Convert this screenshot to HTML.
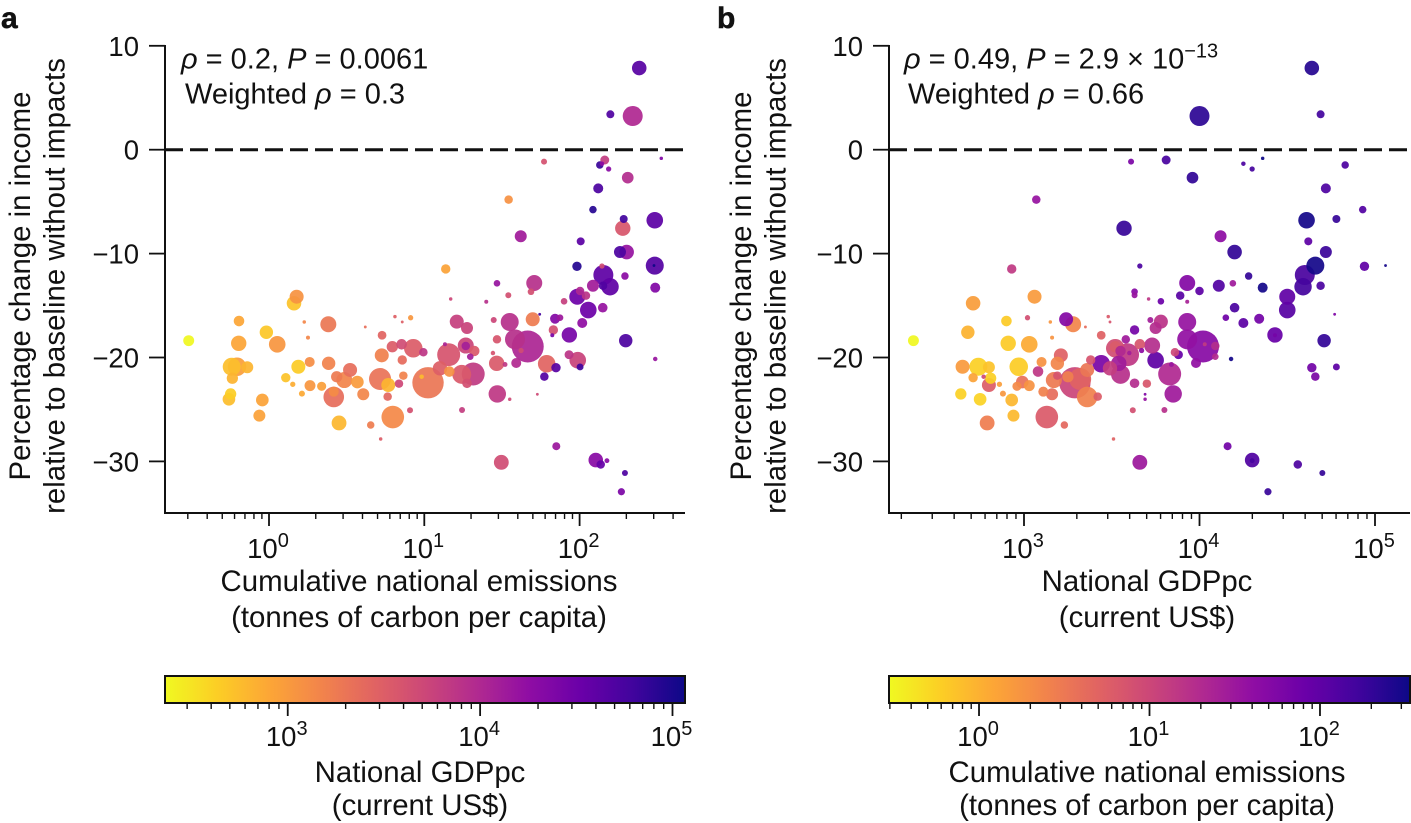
<!DOCTYPE html>
<html lang="en">
<head>
<meta charset="utf-8">
<title>Income change vs emissions and GDP</title>
<style>
html,body{margin:0;padding:0;background:#fff;}
svg{display:block;font-family:"Liberation Sans",Arial,sans-serif;fill:#111;}
.tick{font-size:27.5px;}
.lab{font-size:29.4px;}
.note{font-size:29px;}
.sup{font-size:20px;}
.panel{font-size:30px;font-weight:bold;stroke:#111;stroke-width:0.5px;}
</style>
</head>
<body>
<svg id="chart" xmlns="http://www.w3.org/2000/svg" width="1411" height="823" viewBox="0 0 1411 823">
  <defs>
    <linearGradient id="plasma-reversed" x1="0" y1="0" x2="1" y2="0"></linearGradient>
  </defs>
  <rect x="0" y="0" width="1411" height="823" fill="#fff"/>

  <text class="panel" x="1" y="28">a</text>
  <text class="panel" x="717" y="28">b</text>

  <g id="panel-a"></g>
  <g id="panel-b"></g>

  <text class="lab" text-anchor="middle" transform="translate(30 286) rotate(-90)">Percentage change in income</text>
  <text class="lab" text-anchor="middle" transform="translate(64.5 286) rotate(-90)">relative to baseline without impacts</text>
  <text class="lab" text-anchor="middle" transform="translate(751 286) rotate(-90)">Percentage change in income</text>
  <text class="lab" text-anchor="middle" transform="translate(785.5 286) rotate(-90)">relative to baseline without impacts</text>

  <text class="lab" text-anchor="middle" x="419" y="591">Cumulative national emissions</text>
  <text class="lab" text-anchor="middle" x="419" y="627">(tonnes of carbon per capita)</text>
  <text class="lab" text-anchor="middle" x="1147" y="591">National GDPpc</text>
  <text class="lab" text-anchor="middle" x="1147" y="627">(current US$)</text>

  <text class="lab" text-anchor="middle" x="420" y="782">National GDPpc</text>
  <text class="lab" text-anchor="middle" x="420" y="815">(current US$)</text>
  <text class="lab" text-anchor="middle" x="1147" y="782">Cumulative national emissions</text>
  <text class="lab" text-anchor="middle" x="1147" y="815">(tonnes of carbon per capita)</text>

  <text class="note" x="181" y="68.5"><tspan font-style="italic">ρ</tspan> = 0.2, <tspan font-style="italic">P</tspan> = 0.0061</text>
  <text class="note" x="185" y="103.5">Weighted <tspan font-style="italic">ρ</tspan> = 0.3</text>
  <text class="note" x="904" y="68.5"><tspan font-style="italic">ρ</tspan> = 0.49, <tspan font-style="italic">P</tspan> = 2.9 × 10<tspan class="sup" dy="-11">−13</tspan></text>
  <text class="note" x="908" y="103.5">Weighted <tspan font-style="italic">ρ</tspan> = 0.66</text>
</svg>

<script>
// Per-country values. Exponents are log10 of the plotted quantity.
const log10Emissions = [-0.517,0.178,0.161,-0.193,-0.017,-0.195,0.053,0.382,0.227,0.251,0.728,0.62,0.811,0.858,0.912,0.794,0.854,0.929,0.994,0.726,0.858,0.262,0.384,0.189,-0.206,-0.24,-0.14,-0.236,0.522,0.436,0.108,0.485,0.569,0.715,0.865,0.153,0.264,0.339,0.768,0.837,1.024,0.983,0.417,0.607,0.212,0.764,-0.247,-0.258,-0.043,-0.062,0.908,0.797,0.451,0.655,0.719,1.468,1.708,1.687,1.541,1.17,1.399,1.9,1.985,2.041,2.086,2.196,2.056,2.149,2.487,1.209,1.275,1.447,1.55,1.698,1.743,1.842,1.874,2.017,1.831,1.824,1.934,2.297,1.468,1.666,1.623,1.442,1.267,1.322,1.296,1.133,1.157,1.932,1.988,2.003,1.466,1.52,1.592,1.788,1.848,1.773,2.487,1.315,1.241,1.275,1.161,1.101,1.47,1.55,1.728,1.243,1.496,1.85,2.104,2.136,2.176,2.292,2.269,2.384,2.198,2.342,1.771,2.162,2.13,2.187,2.526,2.31,2.12,1.543,2.086,2.284,2.484,2.278,1.621,2.007,2.303,2.26,1.983,2.484,1.138,2.144,2.153,2.292,2.151,2.003,1.584,1.267,2.479,2.144,0.417];
const log10Gdp = [2.37,3.06,2.71,2.9,2.68,2.91,3.03,3.28,3.15,3.16,3.44,3.35,3.48,3.49,3.02,3.52,3.66,3.52,3.86,3.21,3.38,3.1,3.19,2.65,2.97,2.74,2.8,2.81,3.36,3.25,2.71,3.17,2.99,3.32,3.19,2.86,3.03,2.96,2.8,3.7,3.29,2.77,3.36,3.16,2.88,3.42,2.64,2.75,2.93,2.94,3.62,3.13,2.79,3.23,3.51,4.19,3.93,3.63,3.63,3.71,3.93,3.78,4.5,3.89,4.11,4.59,4.5,4.2,4.36,3.78,3.75,3.72,3.93,3.24,4.77,4.34,4.15,4.25,3.63,4.43,4.43,4.71,3.58,4.02,3.67,3.6,3.73,3.55,4.09,4.03,3.59,3.88,3.75,4.78,3.54,3.84,3.98,3.44,4.64,4.66,4.18,3.83,3.55,3.63,3.08,3.49,3.85,3.69,3.69,3.8,3.66,4.16,4.3,4.56,4.3,4.7,4.39,4.64,4.69,4,3.61,3.81,4.83,4.3,4.36,3.96,4.72,3.07,4.93,4.78,4.61,3.57,4.12,4.62,4.2,4.72,4.94,4.66,2.93,3.66,4.6,4.28,4.69,4,3.93,4.09,5.06,4.25,3.11];
const incomeChange = [-18.38,-14.15,-14.78,-16.49,-17.57,-18.63,-18.73,-16.8,-16.58,-18.09,-17.86,-17.06,-16.07,-16.58,-16.17,-18.96,-18.73,-19.11,-19.5,-19.79,-20.24,-20.43,-20.56,-20.89,-20.89,-20.89,-20.94,-22,-21.2,-21.85,-21.94,-22.17,-22.36,-22.07,-21.75,-22.58,-22.71,-22.77,-22.65,-22.52,-22.43,-21.85,-23.8,-23.54,-23.48,-23.77,-23.51,-24.02,-24.09,-25.6,-25.08,-25.73,-26.3,-26.5,-27.84,-12.86,-12.83,-13.67,-14.01,-14.37,-14.63,-14.59,-14.15,-14.05,-13.09,-13.19,-15.43,-15.21,-13.28,-16.55,-17.16,-16.39,-16.58,-16.32,-15.84,-16.27,-16.17,-16.68,-17.35,-17.86,-17.83,-18.38,-18.25,-18.94,-19.33,-19.57,-18.85,-19.37,-19.92,-18.73,-19.73,-19.73,-20.26,-20.91,-20.56,-20.67,-20.53,-20.6,-20.98,-21.84,-20.14,-21.59,-21.62,-22.48,-21.35,-21.04,-23.51,-24.02,-23.54,-25.05,-30.09,-28.54,-29.87,-30.3,-29.93,-31.12,-32.92,7.86,3.41,3.24,-1.15,-0.99,-1.47,-1.86,-0.83,-2.69,-3.72,-4.81,-5.77,-6.67,-6.79,-7.56,-8.33,-8.82,-9.85,-9.85,-11.22,-11.16,-11.48,-11.19,-12.06,-12.16,-13.09,-13.6,-18.25,-18.89,-11.15,-1.35,-23.29];
const populationArea = [30,49,53,28,45,59,69,64,3,4,19,2,3,2,7,32,28,86,18,49,22,25,45,49,86,81,36,32,49,32,22,64,40,121,18,7,30,21,49,18,246,5,106,36,9,18,32,40,40,36,9,128,55,14,3,11,64,11,9,3,4,11,64,18,36,76,69,23,25,49,36,9,81,49,2,25,11,25,22,4,59,45,18,256,7,5,64,27,11,4,132,20,69,12,59,6,25,77,22,18,5,132,90,23,28,52,76,3,2,9,55,16,53,18,6,9,13,53,16,100,9,20,14,7,3,34,25,18,14,16,69,59,36,16,53,36,22,81,22,7,100,14,18,18,100,18,2,5,25];

// Axis tick exponents and value axis ticks.
const emissionTickExponents = [0,1,2];
const gdpTickExponents = [3,4,5];
const yTickValues = [10,0,-10,-20,-30];
const yTickLabels = ['10','0','−10','−20','−30'];

// Matplotlib "plasma" colormap stops, low to high.
const plasmaStops = ['#0d0887','#41049d','#6a00a8','#8f0da4','#b12a90','#cc4778','#e16462','#f2844b','#fca636','#fcce25','#f0f921'];

// Colour-scale domains (log10).
const gdpColorDomain = [2.362,5.065];
const emissionColorDomain = [-0.528,2.528];

const NS = 'http://www.w3.org/2000/svg';
function make(tag, attrs, parent){
  const el = document.createElementNS(NS, tag);
  for (const k in attrs) el.setAttribute(k, attrs[k]);
  parent.appendChild(el);
  return el;
}
function hexToRgb(h){ return [1,3,5].map(i => parseInt(h.substr(i,2),16)); }
function plasmaReversed(t){
  const v = 1 - Math.max(0, Math.min(1, t));
  const p = v * (plasmaStops.length - 1);
  const i = Math.min(plasmaStops.length - 2, Math.floor(p));
  const f = p - i;
  const a = hexToRgb(plasmaStops[i]), b = hexToRgb(plasmaStops[i + 1]);
  return 'rgb(' + a.map((c, j) => Math.round(c + (b[j] - c) * f)).join(',') + ')';
}
const gradient = document.getElementById('plasma-reversed');
for (let i = 0; i <= 40; i++) {
  make('stop', {offset: (i / 40), 'stop-color': plasmaReversed(i / 40)}, gradient);
}

const yScale = v => 149.7 - 10.39 * v;
const AXIS_TOP = 46, AXIS_BOTTOM = 513;

function logTicks(root, prefix, x, axisY, majorLen, minorLen, low, high, exps, labelOffset){
  const group = make('g', {}, root);
  
  
  const first = Math.floor(low), last = Math.ceil(high);
  for (let d = first; d <= last; d++) {
    for (let m = 1; m <= 9; m++) {
      const lv = d + Math.log10(m);
      if (lv < low || lv > high) continue;
      const px = x(lv);
      const len = m === 1 ? majorLen : minorLen;
      const t = make('line', {x1: px, x2: px, y1: axisY, y2: axisY + len, stroke: '#111', 'stroke-width': m === 1 ? 1.8 : 1.4}, group);
      
      
    }
  }
  exps.forEach(e => {
    const txt = make('text', {x: x(e) - 1, y: axisY + labelOffset, 'text-anchor': 'middle', 'class': 'tick'}, root);
    
    
    txt.appendChild(document.createTextNode('10'));
    const sup = make('tspan', {'class': 'sup', dy: -11}, txt);
    sup.textContent = String(e);
  });
}

function drawPanel(cfg){
  const root = document.getElementById(cfg.id);
  const x = v => cfg.xZero + cfg.xPerDecade * (v - cfg.xZeroLog);

  const dots = make('g', {}, root);
  
  
  const order = incomeChange.map((_, i) => i).sort((p, q) => populationArea[q] - populationArea[p]);
  order.forEach(i => {
    const t = (cfg.colorValues[i] - cfg.colorDomain[0]) / (cfg.colorDomain[1] - cfg.colorDomain[0]);
    const c = make('circle', {cx: x(cfg.xValues[i]), cy: yScale(incomeChange[i]), r: Math.sqrt(populationArea[i]), fill: plasmaReversed(t), 'fill-opacity': 0.93}, dots);
    
    
  });

  const zero = make('line', {x1: cfg.left, x2: cfg.right, y1: yScale(0), y2: yScale(0), stroke: '#111', 'stroke-width': 3, 'stroke-dasharray': '18 7'}, root);
  
  

  const yAxis = make('line', {x1: cfg.left, x2: cfg.left, y1: AXIS_TOP - 1, y2: AXIS_BOTTOM + 1, stroke: '#111', 'stroke-width': 2}, root);
  
  
  const xAxis = make('line', {x1: cfg.left - 1, x2: cfg.right, y1: AXIS_BOTTOM, y2: AXIS_BOTTOM, stroke: '#111', 'stroke-width': 2}, root);
  
  

  yTickValues.forEach((v, i) => {
    const py = yScale(v);
    const tk = make('line', {x1: cfg.left - 16, x2: cfg.left, y1: py, y2: py, stroke: '#111', 'stroke-width': 1.8}, root);
    
    
    const lb = make('text', {x: cfg.left - 26, y: py + 10, 'text-anchor': 'end', 'class': 'tick'}, root);
    
    
    lb.textContent = yTickLabels[i];
  });

  logTicks(root, cfg.key + '-x', x, AXIS_BOTTOM, 13, 6, (cfg.left - cfg.xZero) / cfg.xPerDecade + cfg.xZeroLog, (cfg.right - cfg.xZero) / cfg.xPerDecade + cfg.xZeroLog, cfg.xTicks, 45);

  const barTop = 676, barBottom = 703;
  const bar = make('rect', {x: cfg.left, y: barTop, width: cfg.right - cfg.left, height: barBottom - barTop, fill: 'url(#plasma-reversed)', stroke: '#111', 'stroke-width': 2}, root);
  
  
  const cx = v => cfg.left + (cfg.right - cfg.left) * (v - cfg.colorDomain[0]) / (cfg.colorDomain[1] - cfg.colorDomain[0]);
  logTicks(root, cfg.key + '-colorbar', cx, barBottom, 13, 6, cfg.colorDomain[0], cfg.colorDomain[1], cfg.colorTicks, 43);
}

drawPanel({
  id: 'panel-a', key: 'panel-a', left: 165, right: 685,
  xZero: 269, xZeroLog: 0, xPerDecade: 155.3,
  xValues: log10Emissions, xTicks: emissionTickExponents,
  colorValues: log10Gdp, colorDomain: gdpColorDomain, colorTicks: gdpTickExponents
});
drawPanel({
  id: 'panel-b', key: 'panel-b', left: 889, right: 1410,
  xZero: 1024, xZeroLog: 3, xPerDecade: 175.5,
  xValues: log10Gdp, xTicks: gdpTickExponents,
  colorValues: log10Emissions, colorDomain: emissionColorDomain, colorTicks: emissionTickExponents
});
</script>
</body>
</html>
